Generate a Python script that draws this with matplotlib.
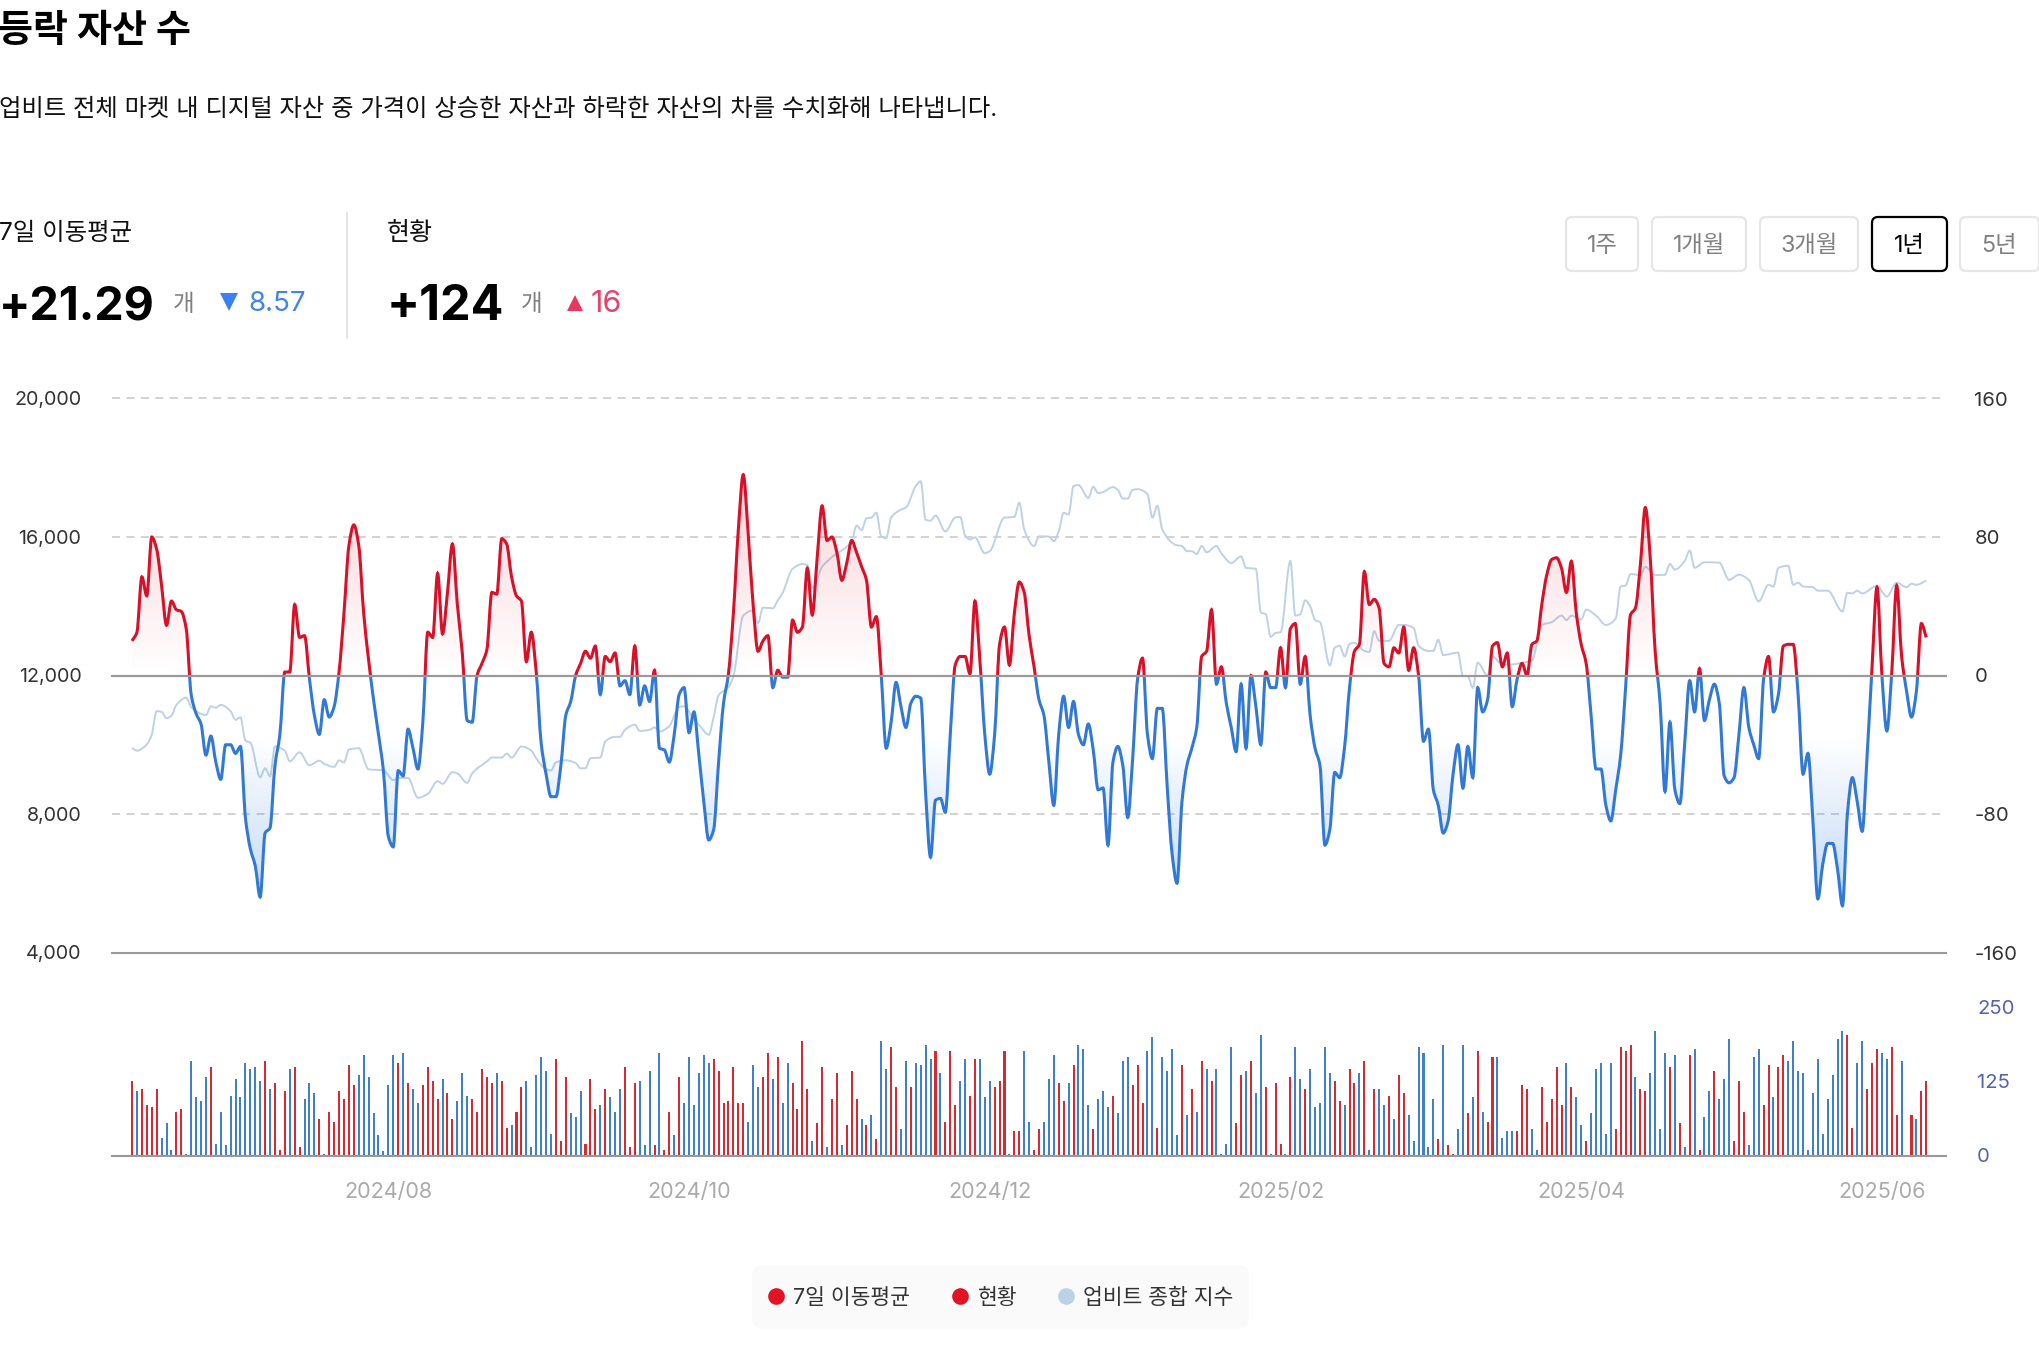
import numpy as np
import matplotlib
matplotlib.use("Agg")
import matplotlib.pyplot as plt
from matplotlib.path import Path
from matplotlib.patches import PathPatch, Rectangle, FancyBboxPatch

plt.rcParams['font.family'] = ['Inter', 'Noto Sans CJK KR', 'DejaVu Sans']
plt.rcParams['axes.unicode_minus'] = False

# diff of rising and falling assets, one value per day (right axis)
line_values = [
    20, 25, 57, 46, 80, 73, 52, 29, 43, 38,
    37, 27, -11, -22, -28, -46, -35, -50, -60, -40,
    -40, -45, -41, -82, -100, -110, -128, -91, -88, -52,
    -34, 2, 2, 41, 22, 23, -2, -23, -34, -14,
    -24, -18, 2, 36, 75, 87, 75, 36, 9, -14,
    -34, -55, -93, -99, -55, -58, -31, -42, -54, -27,
    25, 22, 59, 24, 48, 76, 41, 13, -26, -27,
    0, 7, 15, 48, 47, 79, 76, 57, 46, 43,
    8, 25, 2, -39, -57, -70, -70, -52, -23, -15,
    0, 7, 14, 10, 17, -11, 11, 8, 13, -6,
    -3, -11, 17, -17, -6, -15, 3, -42, -43, -50,
    -34, -11, -7, -33, -21, -46, -73, -95, -89, -50,
    -16, 1, 36, 84, 116, 82, 41, 14, 20, 23,
    -7, 3, -1, -1, 32, 25, 28, 62, 35, 68,
    98, 78, 80, 71, 55, 65, 78, 71, 63, 55,
    28, 34, 0, -42, -27, -4, -18, -30, -16, -12,
    -13, -68, -105, -72, -71, -79, -34, 6, 11, 11,
    1, 43, 9, -34, -57, -34, 18, 28, 6, 36,
    54, 48, 23, 5, -14, -23, -50, -75, -34, -12,
    -30, -15, -34, -40, -28, -43, -66, -65, -98, -50,
    -41, -52, -82, -48, -2, 10, -34, -48, -19, -19,
    -64, -103, -120, -73, -52, -42, -30, 11, 14, 38,
    -5, 5, -16, -30, -44, -5, -42, 0, -18, -40,
    2, -7, -7, 16, -7, 27, 30, -5, 11, -23,
    -42, -52, -98, -89, -56, -59, -41, -7, 14, 18,
    60, 41, 44, 39, 7, 5, 16, 13, 28, 3,
    16, 0, -38, -31, -66, -75, -91, -84, -57, -40,
    -65, -41, -59, -7, -21, -14, 17, 19, 5, 13,
    -18, -2, 7, 0, 18, 20, 41, 58, 67, 68,
    62, 48, 66, 36, 18, 7, -23, -54, -54, -75,
    -84, -66, -46, -7, 35, 39, 64, 97, 68, 14,
    -16, -67, -27, -66, -74, -39, -3, -21, 4, -26,
    -14, -5, -16, -58, -62, -59, -34, -7, -30, -40,
    -48, -2, 11, -21, -11, 17, 18, 18, -11, -57,
    -45, -84, -129, -109, -97, -97, -112, -133, -80, -59,
    -73, -90, -46, 5, 51, 0, -32, 2, 52, 11,
    -9, -24, -9, 30, 22,
]

# bars: height per day, positive = red, negative = blue
bar_values = [
    125, -108, 112, 85, 81, 112, -30, -54, -10, 74,
    78, -3, -159, -98, -91, -132, 149, -20, -74, -17,
    -101, -128, -98, -155, -145, -149, -125, 159, -112, 122,
    10, 108, -145, 149, 14, -95, -122, -105, 61, -3,
    74, 57, 108, 95, 152, 118, -135, -169, -132, -71,
    -34, -7, -118, -169, 155, -172, 122, -112, -88, 118,
    149, 125, 95, -128, 105, 61, -91, -139, -101, 95,
    74, 145, 132, 122, -139, 125, 47, -51, 74, 115,
    -125, -14, -135, -166, -142, -37, 162, 24, 132, -71,
    -64, -108, 20, 128, 78, -85, 112, -98, -74, -112,
    149, 14, 122, -125, -17, -142, 17, -172, 10, 74,
    -34, 132, -88, -166, -85, -139, -169, -155, 162, 142,
    88, 91, 149, 88, 88, -57, -152, -115, 132, 172,
    -128, 166, -88, -155, 122, 78, 193, 112, -24, 54,
    149, -14, 95, 139, -17, 51, 142, 95, -61, 51,
    -68, 27, -193, -145, 183, 115, -44, -159, 115, -155,
    -152, -186, -162, 176, -139, 57, 176, 85, -125, -162,
    101, 162, -162, -98, -125, 115, 125, 176, -3, 41,
    41, -176, -57, 10, 44, -57, -128, -169, 122, 91,
    -122, 152, -186, -179, -85, 44, -95, -108, -81, 101,
    -71, -159, -166, 118, 152, 88, -176, -199, 47, -166,
    -142, -179, -34, 152, -68, 112, -74, 159, -145, 125,
    -145, -3, -20, -183, 54, 135, -142, 159, -105, -203,
    115, -3, 122, 20, -3, 132, -183, -128, 112, -145,
    -81, -88, -183, -139, 125, 91, -85, 145, 122, -139,
    159, -10, 112, -112, -85, 101, -61, 135, 105, -68,
    -24, -183, -172, -14, -95, 27, -186, 17, 3, -44,
    -186, 71, -98, 176, -74, 57, 166, -166, -30, -41,
    -41, 41, 118, 112, -44, -10, 115, 57, 95, 149,
    85, -155, 115, -98, -51, 24, -71, -145, -155, -37,
    -155, 44, 183, 176, 186, -132, 112, 108, -139, -210,
    -44, -172, 149, -169, 54, -14, 169, -179, 10, -64,
    -108, 142, -95, -128, -196, 24, 125, 74, -17, -166,
    -179, 85, 152, -98, 149, 169, -159, -193, -142, -139,
    -10, -105, -162, -37, -95, -135, -196, -210, 203, 47,
    -155, -193, 112, 155, 179, -172, -162, 183, 68, -159,
    0, 68, -61, 108, 125,
]

# upbit composite index, read at its turning points (left axis)
index_days = [
    0, 1, 3, 4, 5, 6, 7, 8, 9, 11, 12, 15, 16, 17, 18, 20, 21, 22, 23, 24,
    26, 27, 28, 29, 31, 32, 34, 36, 38, 39, 41, 42, 43, 44, 46, 48, 51, 53, 54, 56,
    58, 60, 62, 63, 65, 66, 68, 69, 72, 73, 75, 76, 77, 79, 81, 82, 84, 85, 86, 88,
    90, 91, 92, 93, 95, 96, 98, 99, 100, 102, 103, 105, 106, 107, 109, 111, 112, 114, 115, 117,
    118, 119, 121, 122, 124, 126, 127, 128, 130, 131, 132, 134, 136, 137, 138, 140, 142, 146, 147, 148,
    149, 150, 151, 152, 153, 154, 156, 157, 159, 160, 161, 162, 163, 165, 167, 168, 169, 170, 171, 173,
    174, 177, 179, 180, 181, 183, 184, 186, 187, 188, 189, 190, 191, 192, 194, 195, 196, 197, 199, 200,
    201, 202, 203, 204, 206, 207, 208, 209, 212, 213, 214, 215, 216, 217, 218, 220, 221, 223, 225, 226,
    228, 229, 230, 231, 232, 233, 235, 236, 237, 238, 239, 240, 241, 243, 244, 245, 246, 247, 248, 250,
    251, 252, 253, 255, 257, 258, 260, 261, 263, 264, 265, 266, 269, 270, 271, 272, 273, 275, 276, 278,
    280, 282, 284, 286, 288, 290, 291, 292, 294, 295, 297, 299, 301, 302, 303, 304, 306, 307, 309, 311,
    312, 313, 315, 316, 317, 319, 322, 324, 326, 328, 330, 332, 333, 334, 336, 337, 338, 339, 341, 342,
    344, 347, 348, 349, 350, 351, 354, 356, 358, 360, 361, 362, 364,
]
index_values = [
    9910, 9830, 10010, 10290, 10970, 10950, 10770, 10840, 11150, 11360, 11090, 10860, 11110, 11070, 11150, 10970, 10720, 10790, 10120, 10060,
    9060, 9320, 9090, 9950, 9830, 9520, 9780, 9410, 9540, 9450, 9360, 9550, 9490, 9860, 9900, 9290, 9260, 8980, 9040, 9040,
    8470, 8580, 8950, 8870, 9210, 9170, 8900, 9170, 9520, 9630, 9630, 9740, 9630, 9950, 9830, 9610, 9290, 9260, 9490, 9550,
    9470, 9320, 9320, 9610, 9630, 10090, 10230, 10230, 10430, 10580, 10400, 10430, 10500, 10380, 10540, 11090, 11110, 10720, 10580, 10290,
    10800, 11430, 11660, 11980, 13730, 13880, 13510, 13960, 13940, 14170, 14390, 15080, 15220, 15190, 14530, 15140, 15420, 15880, 16330, 16200,
    16540, 16560, 16700, 16010, 15970, 16560, 16790, 16850, 17470, 17610, 16500, 16470, 16620, 16160, 16560, 16580, 16050, 15930, 15990, 15530,
    15590, 16560, 16580, 16990, 16220, 15740, 16020, 16010, 15880, 16160, 16700, 16650, 17470, 17500, 17130, 17450, 17270, 17300, 17440, 17360,
    17110, 17110, 17360, 17380, 17240, 16560, 16900, 16220, 15760, 15740, 15590, 15590, 15510, 15740, 15560, 15740, 15530, 15250, 15440, 15110,
    15080, 13820, 13770, 13120, 13230, 13250, 15310, 13730, 13770, 14170, 14000, 13600, 13540, 12290, 12800, 12860, 12550, 12910, 12940, 12710,
    12680, 13280, 13000, 13000, 13460, 13460, 13370, 12860, 12710, 12710, 13030, 12590, 12660, 11980, 11980, 11640, 12370, 12000, 12550, 12320,
    12320, 12370, 12430, 13460, 13540, 13730, 13600, 13730, 13620, 13900, 13730, 13460, 13650, 14570, 14600, 14930, 14900, 15140, 14900, 14910,
    15220, 15060, 15310, 15610, 15110, 15270, 15260, 14760, 14910, 14760, 14140, 14620, 14570, 15110, 15170, 14620, 14680, 14570, 14550, 14450,
    14450, 13850, 14390, 14370, 14450, 14370, 14590, 14280, 14680, 14550, 14650, 14620, 14740,
]

left_ticks = [4000, 8000, 12000, 16000, 20000]
right_ticks = [-160, -80, 0, 80, 160]
bar_ticks = [0, 125, 250]
month_ticks = [52, 113, 174, 233, 294, 355]
month_labels = ['2024/08', '2024/10', '2024/12', '2025/02', '2025/04', '2025/06']
periods = ['1주', '1개월', '3개월', '1년', '5년']
legend_labels = ['7일 이동평균', '현황', '업비트 종합 지수']

RED = '#D81028'
BLUE = '#3279D6'
W, H = 2040, 1358
XLIM = (-4.06, 368)


def px_axes(fig, x0, y0, x1, y1):
    return fig.add_axes([x0 / W, 1 - y1 / H, (x1 - x0) / W, (y1 - y0) / H])


def smooth_path(x, y):
    # monotone cubic through the points, same look as the site's smooth lines
    x = np.asarray(x, float)
    y = np.asarray(y, float)
    h = np.diff(x)
    d = np.diff(y) / h
    m = np.zeros(len(x))
    m[0], m[-1] = d[0], d[-1]
    for i in range(1, len(x) - 1):
        if d[i - 1] * d[i] > 0:
            w1 = 2 * h[i] + h[i - 1]
            w2 = h[i] + 2 * h[i - 1]
            m[i] = (w1 + w2) / (w1 / d[i - 1] + w2 / d[i])
    verts = [(x[0], y[0])]
    codes = [Path.MOVETO]
    for i in range(len(x) - 1):
        verts += [(x[i] + h[i] / 3, y[i] + m[i] * h[i] / 3),
                  (x[i + 1] - h[i] / 3, y[i + 1] - m[i + 1] * h[i] / 3),
                  (x[i + 1], y[i + 1])]
        codes += [Path.CURVE4] * 3
    return verts, codes


def clean(ax):
    for s in ax.spines.values():
        s.set_visible(False)
    ax.patch.set_alpha(0)


fig = plt.figure(figsize=(W / 100, H / 100), dpi=100, facecolor='white')

# index line and left axis
ax = px_axes(fig, 112, 398.5, 1946, 952.5)
clean(ax)
ax.set_xlim(*XLIM)
ax.set_ylim(left_ticks[0], left_ticks[-1])
ax.set_xticks([])
ax.set_yticks(left_ticks)
ax.set_yticklabels([f'{v:,}' for v in left_ticks])
ax.tick_params(axis='y', length=0, pad=22, labelsize=14.2, labelcolor='#333333')
for v in left_ticks:
    if v in (4000, 12000):
        ax.axhline(v, color='#999999', lw=1.5, clip_on=False)
    else:
        ax.axhline(v, color='#CFCFCF', lw=1.3, dashes=(4.5, 3.5), clip_on=False)
v, c = smooth_path(index_days, index_values)
ax.add_patch(PathPatch(Path(v, c), fill=False, edgecolor='#BCD2E6', lw=1.4, zorder=3))

# rising/falling difference on right axis
axr = ax.twinx()
clean(axr)
axr.set_xlim(*XLIM)
axr.set_ylim(right_ticks[0], right_ticks[-1])
axr.set_yticks(right_ticks)
axr.tick_params(axis='y', length=0, pad=20.5, labelsize=14.6, labelcolor='#333333')

days = np.arange(len(line_values))
v, c = smooth_path(days, line_values)
area = Path(v + [(days[-1], 0), (days[0], 0), (days[0], line_values[0])],
            c + [Path.LINETO, Path.LINETO, Path.CLOSEPOLY])
area_patch = PathPatch(area, transform=axr.transData, fill=False, edgecolor='none')
axr.add_patch(area_patch)

red_grad = np.zeros((100, 2, 4))
red_grad[..., :3] = matplotlib.colors.to_rgb('#E0182E')
red_grad[..., 3] = np.linspace(0.2, 0, 100)[:, None]
im = axr.imshow(red_grad, extent=(XLIM[0], XLIM[1], 0, 116), aspect='auto', origin='upper', zorder=1)
im.set_clip_path(area_patch)

blue_grad = np.zeros((100, 2, 4))
blue_grad[..., :3] = matplotlib.colors.to_rgb('#3A84E0')
blue_grad[..., 3] = np.linspace(0, 0.32, 100)[:, None]
im = axr.imshow(blue_grad, extent=(XLIM[0], XLIM[1], -133, -35), aspect='auto', origin='upper', zorder=1)
im.set_clip_path(area_patch)
axr.set_xlim(*XLIM)
axr.set_ylim(right_ticks[0], right_ticks[-1])

up = PathPatch(Path(v, c), fill=False, edgecolor=RED, lw=2.2, zorder=4)
down = PathPatch(Path(v, c), fill=False, edgecolor=BLUE, lw=2.2, zorder=4)
axr.add_patch(up)
axr.add_patch(down)
up.set_clip_path(Rectangle((XLIM[0], 0), XLIM[1] - XLIM[0], 160, transform=axr.transData))
down.set_clip_path(Rectangle((XLIM[0], -160), XLIM[1] - XLIM[0], 160, transform=axr.transData))
axr.axhline(0, color='#999999', lw=1.5, zorder=5)

# bars below
axb = px_axes(fig, 112, 1007, 1946, 1155.5)
clean(axb)
bar_colors = ['#D62A32' if b > 0 else '#3F7FCC' for b in bar_values]
axb.bar(np.arange(len(bar_values)), np.abs(bar_values), width=0.41, color=bar_colors, linewidth=0)
axb.set_xlim(*XLIM)
axb.set_ylim(bar_ticks[0], bar_ticks[-1])
axb.axhline(0, color='#999999', lw=1.5, clip_on=False)
axb.yaxis.tick_right()
axb.set_yticks(bar_ticks)
axb.tick_params(axis='y', length=0, pad=22.5, labelsize=14.6, labelcolor='#5562B0')
axb.set_xticks(month_ticks)
axb.set_xticklabels(month_labels)
axb.tick_params(axis='x', length=0, pad=19, labelsize=15.5, labelcolor='#AAAAAA')

# header, period buttons and legend in pixel coordinates
ov = fig.add_axes([0, 0, 1, 1], zorder=10)
ov.set_xlim(0, W)
ov.set_ylim(H, 0)
ov.axis('off')

ov.text(-2, 32, '등락 자산 수', fontsize=27.4, fontweight='bold', color='black', va='center')
ov.text(-1, 110, '업비트 전체 마켓 내 디지털 자산 중 가격이 상승한 자산과 하락한 자산의 차를 수치화해 나타냅니다.',
        fontsize=17.5, color='#111111', va='center')
ov.text(-1, 234, '7일 이동평균', fontsize=17.6, color='#111111', va='center')
ov.text(387, 233, '현황', fontsize=18, color='#111111', va='center')
ov.plot([347, 347], [213, 338], color='#E3E5EA', lw=1.4)

ov.text(-1, 307, '+21.29', fontsize=33.5, fontweight='bold', color='black', va='center')
ov.text(173, 305, '개', fontsize=17, color='#808080', va='center')
ov.plot(229, 302, marker='v', ms=13, color='#3B82F0', mew=0)
ov.text(248, 304, '8.57', fontsize=20, color='#4285E8', va='center')

ov.text(387, 307, '+124', fontsize=35, fontweight='bold', color='black', va='center')
ov.text(521, 305, '개', fontsize=17, color='#808080', va='center')
ov.plot(575, 303, marker='^', ms=11, color='#E8385E', mew=0)
ov.text(591, 304, '16', fontsize=22, color='#E2456A', va='center')

button_edges = [(1566, 1638), (1652, 1746), (1760, 1858), (1872, 1947), (1960, 2039)]
for (x0, x1), label in zip(button_edges, periods):
    active = label == '1년'
    ov.add_patch(FancyBboxPatch((x0, 217), x1 - x0, 54, boxstyle='round,pad=0,rounding_size=6',
                                fc='white', ec='black' if active else '#E6E6E6', lw=1.6))
    ov.text((x0 + x1) / 2, 246, label, fontsize=16.8, ha='center', va='center',
            color='black' if active else '#808080')

ov.add_patch(FancyBboxPatch((752, 1265), 497, 64, boxstyle='round,pad=0,rounding_size=12',
                            fc='#FAFAFA', ec='none'))
for x, tx, col, label in zip([776, 960, 1066], [793, 978, 1083],
                             ['#E31225', '#E31225', '#BBD1E6'], legend_labels):
    ov.plot(x, 1296, marker='o', ms=12, color=col, mew=0)
    ov.text(tx, 1298, label, fontsize=15.5, color='#333333', va='center')

fig.savefig('out.png', dpi=100)
